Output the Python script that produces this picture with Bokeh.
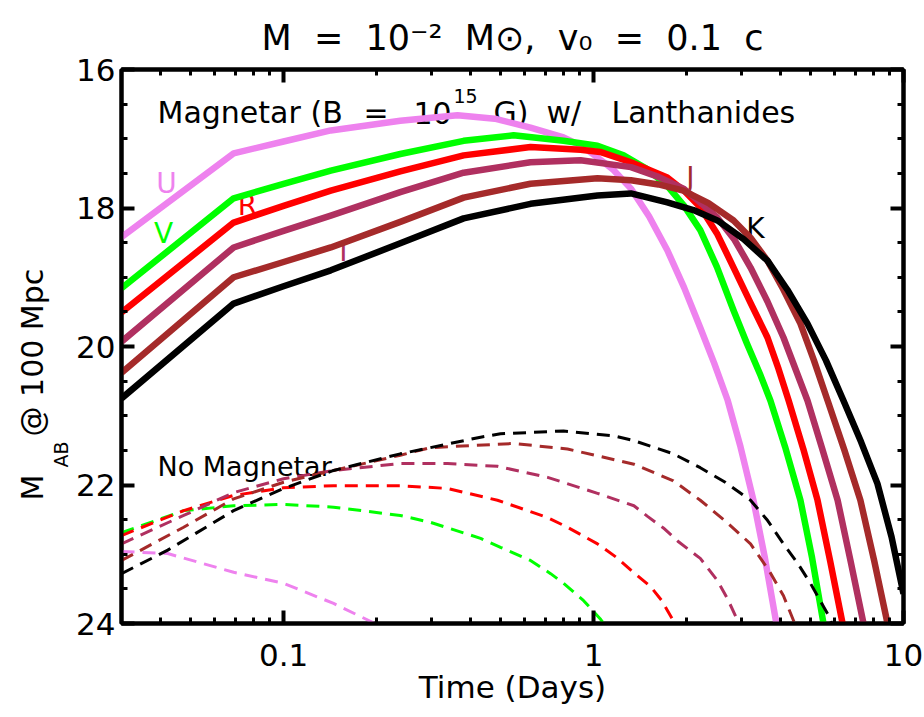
import math

from bokeh.core.properties import value
from bokeh.embed import file_html
from bokeh.models import (CustomJSTickFormatter, FixedTicker, LinearAxis, LogAxis,
                          Range1d, Title)
from bokeh.plotting import figure
from bokeh.resources import INLINE

FONT = "DejaVu Sans"
NB = "\u00a0"   # non-collapsing space for the wide gaps between words

# ---------------------------------------------------------------- axes
T_MIN, T_MAX = 0.03, 10.0
MAG_FAINT, MAG_BRIGHT = 24.0, 16.0
x_major = [0.1, 1, 10]
x_minor = [0.04, 0.05, 0.06, 0.07, 0.08, 0.09,
           0.2, 0.3, 0.4, 0.5, 0.6, 0.7, 0.8, 0.9,
           2, 3, 4, 5, 6, 7, 8, 9]
y_major = [16, 18, 20, 22, 24]
y_minor = [16.5, 17, 17.5, 18.5, 19, 19.5, 20.5, 21, 21.5, 22.5, 23, 23.5]

# ------------------------------------------- magnetar-powered light curves
t_U = [0.030, 0.069, 0.100, 0.142, 0.238, 0.364, 0.480, 0.626, 0.800, 0.920, 1.03, 1.16, 1.32,
       1.51, 1.73, 1.96, 2.21, 2.45, 2.71, 2.98, 3.28, 3.57, 3.89, 4.05]
m_U = [18.42, 17.21, 17.04, 16.88, 16.74, 16.66, 16.71, 16.84, 16.98, 17.11, 17.27, 17.45, 17.72,
       18.12, 18.61, 19.15, 19.73, 20.24, 20.78, 21.45, 22.22, 23.05, 24.00, 24.45]

t_V = [0.030, 0.069, 0.100, 0.142, 0.238, 0.381, 0.552, 0.800, 1.03, 1.25, 1.48, 1.73, 1.96,
       2.21, 2.50, 2.83, 3.12, 3.46, 3.72, 4.15, 4.65, 5.07, 5.52, 5.80]
m_V = [19.16, 17.86, 17.65, 17.46, 17.22, 17.03, 16.95, 17.03, 17.10, 17.24, 17.43, 17.68, 17.97,
       18.32, 18.85, 19.48, 19.95, 20.42, 20.78, 21.45, 22.22, 23.05, 24.00, 24.45]

t_R = [0.030, 0.069, 0.100, 0.142, 0.238, 0.381, 0.626, 0.908, 1.05, 1.32, 1.73, 1.96, 2.21,
       2.51, 2.83, 3.21, 3.64, 3.95, 4.26, 4.75, 5.28, 5.80, 6.36, 6.70]
m_R = [19.51, 18.21, 17.97, 17.75, 17.47, 17.24, 17.12, 17.16, 17.19, 17.34, 17.56, 17.75, 17.99,
       18.38, 18.86, 19.37, 19.87, 20.32, 20.78, 21.48, 22.22, 23.10, 24.00, 24.45]

t_I = [0.030, 0.069, 0.100, 0.142, 0.238, 0.381, 0.626, 0.908, 1.32, 1.62, 1.95, 2.21, 2.51,
       2.85, 3.21, 3.64, 4.10, 4.90, 5.47, 6.13, 6.75, 7.43, 7.80]
m_I = [19.93, 18.57, 18.33, 18.11, 17.77, 17.49, 17.34, 17.31, 17.41, 17.55, 17.72, 17.92, 18.14,
       18.46, 18.86, 19.35, 19.87, 20.78, 21.48, 22.22, 23.10, 24.00, 24.45]

t_J = [0.030, 0.069, 0.100, 0.142, 0.238, 0.381, 0.626, 1.03, 1.32, 1.62, 1.95, 2.35, 2.83,
       3.21, 3.64, 4.10, 4.65, 5.14, 5.69, 6.45, 7.26, 8.05, 8.88, 9.30]
m_J = [20.38, 19.00, 18.78, 18.57, 18.20, 17.85, 17.65, 17.57, 17.60, 17.66, 17.75, 17.93, 18.18,
       18.43, 18.76, 19.18, 19.67, 20.20, 20.78, 21.50, 22.22, 23.10, 24.00, 24.45]

t_K = [0.030, 0.069, 0.100, 0.142, 0.238, 0.381, 0.626, 1.03, 1.32, 1.73, 2.10, 2.51, 3.05,
       3.64, 4.22, 4.90, 5.62, 6.40, 7.30, 8.24, 9.15, 10.0]
m_K = [20.75, 19.38, 19.13, 18.90, 18.51, 18.15, 17.94, 17.82, 17.79, 17.92, 18.03, 18.18, 18.45,
       18.76, 19.18, 19.67, 20.20, 20.78, 21.38, 21.98, 22.75, 23.57]

# ------------------------------------------------ no-magnetar light curves
td_U = [0.030, 0.0423, 0.069, 0.100, 0.145, 0.195, 0.205]
md_U = [22.96, 22.99, 23.26, 23.42, 23.71, 23.99, 24.10]

td_V = [0.030, 0.0476, 0.069, 0.100, 0.145, 0.238, 0.298, 0.432, 0.501, 0.626, 0.727, 0.800,
        0.929, 1.05, 1.10]
md_V = [22.69, 22.37, 22.30, 22.28, 22.32, 22.44, 22.54, 22.77, 22.90, 23.09, 23.28, 23.42,
        23.67, 23.93, 24.05]

td_R = [0.030, 0.0476, 0.069, 0.100, 0.145, 0.238, 0.338, 0.490, 0.711, 0.824, 1.03, 1.19,
        1.32, 1.53, 1.66, 1.81, 1.87]
md_R = [22.73, 22.37, 22.15, 22.04, 22.01, 22.01, 22.05, 22.22, 22.47, 22.61, 22.85, 23.05,
        23.23, 23.47, 23.67, 23.96, 24.10]

td_I = [0.030, 0.0476, 0.069, 0.100, 0.145, 0.238, 0.338, 0.490, 0.711, 1.03, 1.35, 1.49,
        1.68, 1.88, 2.21, 2.51, 2.71, 2.92, 3.00]
md_I = [22.85, 22.44, 22.11, 21.91, 21.79, 21.69, 21.69, 21.73, 21.89, 22.12, 22.30, 22.45,
        22.62, 22.82, 23.06, 23.38, 23.65, 23.96, 24.10]

td_J = [0.030, 0.0476, 0.069, 0.100, 0.145, 0.238, 0.298, 0.552, 0.824, 1.35, 1.81, 2.21,
        2.66, 3.21, 3.70, 4.10, 4.42, 4.55]
md_J = [23.09, 22.61, 22.20, 21.96, 21.79, 21.57, 21.46, 21.40, 21.48, 21.70, 21.94, 22.22,
        22.52, 22.85, 23.25, 23.60, 23.96, 24.10]

td_K = [0.030, 0.0423, 0.069, 0.100, 0.145, 0.238, 0.432, 0.501, 0.800, 1.16, 1.35, 1.81,
        2.21, 2.66, 3.21, 3.64, 4.10, 4.54, 5.01, 5.69, 5.94]
md_K = [23.28, 22.94, 22.37, 22.05, 21.79, 21.55, 21.31, 21.26, 21.22, 21.29, 21.36, 21.55,
        21.75, 21.96, 22.22, 22.51, 22.85, 23.12, 23.42, 23.86, 24.05]

bands = ["U", "V", "R", "I", "J", "K"]
band_colors = ["#EE82EE", "#00FF00", "#FF0000", "#B03060", "#A52A2A", "#000000"]
magnetar_curves = [(t_U, m_U), (t_V, m_V), (t_R, m_R), (t_I, m_I), (t_J, m_J), (t_K, m_K)]
bare_curves = [(td_U, md_U), (td_V, md_V), (td_R, md_R), (td_I, md_I), (td_J, md_J), (td_K, md_K)]

# ------------------------------------------------------------- layout
W, H = 924, 717
FRAME_L, FRAME_R, FRAME_T, FRAME_B = 121, 903, 69, 623   # frame edges on the canvas


def at(px, py):
    """Canvas pixel position -> (time, magnitude) for text inside the frame."""
    lo, hi = math.log10(T_MIN), math.log10(T_MAX)
    t = 10 ** (lo + (px - FRAME_L) / (FRAME_R - FRAME_L) * (hi - lo))
    m = MAG_BRIGHT + (py - FRAME_T) / (FRAME_B - FRAME_T) * (MAG_FAINT - MAG_BRIGHT)
    return t, m


p = figure(width=W, height=H, x_axis_type="log",
           x_range=Range1d(T_MIN, T_MAX), y_range=Range1d(MAG_FAINT, MAG_BRIGHT),
           output_backend="svg", toolbar_location=None, title=None,
           min_border_left=FRAME_L, min_border_right=W - FRAME_R,
           min_border_top=FRAME_T, min_border_bottom=H - FRAME_B)
p.background_fill_color = "white"
p.border_fill_color = "white"
p.grid.visible = False
p.outline_line_color = "black"
p.outline_line_width = 4

bottom_axis = p.below[0]
left_axis = p.left[0]

x_ticker = FixedTicker(ticks=x_major, minor_ticks=x_minor)
y_ticker = FixedTicker(ticks=y_major, minor_ticks=y_minor)
blank = CustomJSTickFormatter(code="return '';")

top_axis = LogAxis(ticker=x_ticker, formatter=blank)
right_axis = LinearAxis(ticker=y_ticker, formatter=blank)
p.add_layout(top_axis, "above")
p.add_layout(right_axis, "right")

bottom_axis.ticker = x_ticker
bottom_axis.formatter = CustomJSTickFormatter(code="return String(tick);")
left_axis.ticker = y_ticker

for ax in [bottom_axis, left_axis, top_axis, right_axis]:
    ax.axis_line_width = 4
    ax.axis_line_color = "black"
    ax.major_tick_in = 13
    ax.major_tick_out = 0
    ax.minor_tick_in = 6
    ax.minor_tick_out = 0
    ax.major_tick_line_width = 4
    ax.minor_tick_line_width = 3
    ax.major_label_text_font = FONT
    ax.major_label_text_font_size = "31px"
    ax.major_label_text_color = "black"

for ax in [top_axis, right_axis]:
    ax.major_label_standoff = 0
    ax.major_label_text_font_size = "1px"

bottom_axis.major_label_standoff = 20
left_axis.major_label_standoff = 6
bottom_axis.axis_label = "Time (Days)"
bottom_axis.axis_label_text_font = FONT
bottom_axis.axis_label_text_font_size = "31px"
bottom_axis.axis_label_text_font_style = "normal"
bottom_axis.axis_label_text_color = "black"
bottom_axis.axis_label_standoff = 0


def side_title(text, size, place, **kw):
    t = Title(text=text, text_font=FONT, text_font_size=size, text_font_style="normal",
              text_color="black", **kw)
    p.add_layout(t, place)
    return t


# plot title
gap = NB * 2
side_title(f"M{gap}={gap}10\u207b\u00b2{gap}M\u2299,{gap}v\u2080{gap}={gap}0.1{gap}c",
           "35px", "above", align="center", standoff=24)

# vertical axis title: "M" + subscript "AB" + "@ 100 Mpc"
side_title("AB", "19px", "left", align="left", offset=FRAME_B - 467, standoff=0,
           vertical_align="top")
side_title(f"M{NB * 4}@{NB}100{NB}Mpc", "30px", "left", align="left",
           offset=FRAME_B - 500, standoff=0)

# band names, drawn first so the curves pass over them
lab_px = [(166, 183), (163, 233), (247, 205), (343, 251), (690, 177), (755, 228)]
lab_pos = [at(*xy) for xy in lab_px]
p.text(x=[xy[0] for xy in lab_pos], y=[xy[1] for xy in lab_pos], text=bands,
       text_color=band_colors, text_font=value(FONT), text_font_size="28px",
       text_align="center", text_baseline="middle")


def words(items, size):
    p.text(x=[i[0] for i in items], y=[i[1] for i in items], text=[i[2] for i in items],
           text_font=value(FONT), text_font_size=size, text_color="black",
           text_align="left", text_baseline="alphabetic")


# panel notes
notes_big = [(157, 112, "Magnetar"), (310, 112, "(B"), (363, 112, "="), (413, 112, "10"),
             (493, 112, "G)"), (546, 112, "w/"), (611, 112, "Lanthanides")]
words([(*at(px, py), s) for px, py, s in notes_big], "30px")
words([(*at(453, 95), "15")], "19px")
words([(*at(157, 466), "No Magnetar")], "27px")

for (t, m), c in zip(magnetar_curves, band_colors):
    p.line(t, m, line_color=c, line_width=6.5, line_join="round")

for (t, m), c in zip(bare_curves, band_colors):
    p.line(t, m, line_color=c, line_width=3, line_dash="13 8")

open("out.html", "w").write(file_html(p, INLINE))
